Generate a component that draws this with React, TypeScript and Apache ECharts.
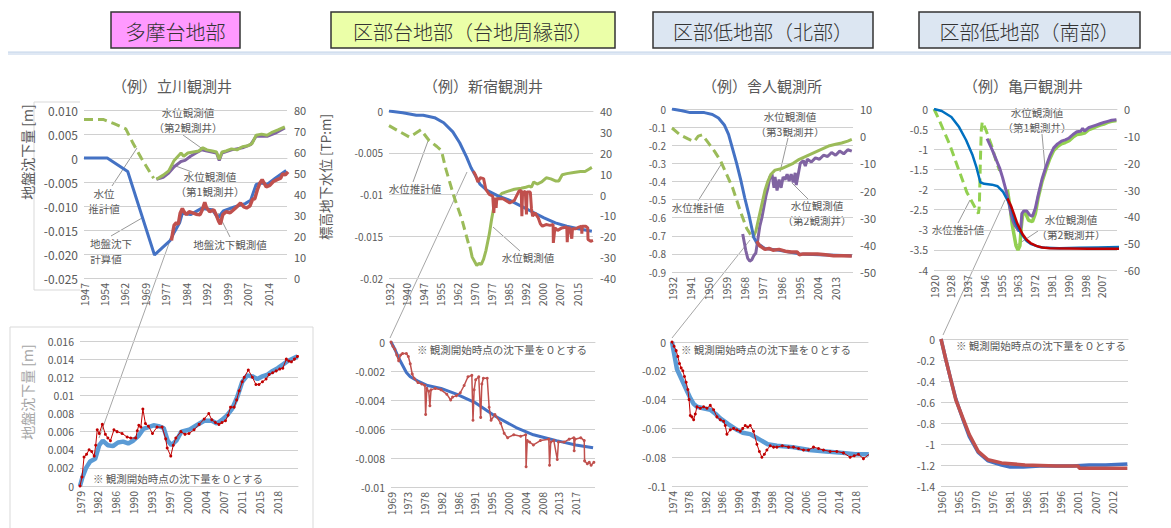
import React, { useEffect, useRef } from 'react';
import * as echarts from 'echarts';

const FONT = "'Noto Sans CJK JP', 'Noto Sans', sans-serif";
const TXT = '#595959';

// ---------------- texts ----------------
const HEADERS = ['多摩台地部', '区部台地部（台地周縁部）', '区部低地部（北部）', '区部低地部（南部）'];
const TITLES = ['（例）立川観測井', '（例）新宿観測井', '（例）舎人観測所', '（例）亀戸観測井'];
const NOTE = '※ 観測開始時点の沈下量を０とする';
const Y_NAME_SUB = '地盤沈下量 [m]';
const Y_NAME_GW = '標高地下水位 [TP:m]';

// ---------------- tick labels ----------------
const X1 = ['1947', '1954', '1962', '1969', '1977', '1984', '1992', '1999', '2007', '2014'];
const X2 = ['1932', '1940', '1947', '1955', '1962', '1970', '1977', '1985', '1992', '2000', '2007', '2015'];
const X3 = ['1932', '1941', '1950', '1959', '1968', '1977', '1986', '1995', '2004', '2013'];
const X4 = ['1920', '1928', '1937', '1946', '1955', '1963', '1972', '1981', '1990', '1998', '2007'];
const X5 = ['1979', '1982', '1986', '1990', '1993', '1997', '2000', '2004', '2007', '2011', '2015', '2018'];
const X6 = ['1969', '1973', '1978', '1982', '1986', '1991', '1995', '2000', '2004', '2008', '2013', '2017'];
const X7 = ['1974', '1978', '1982', '1986', '1990', '1994', '1998', '2002', '2006', '2010', '2014', '2018'];
const X8 = ['1960', '1965', '1970', '1976', '1981', '1986', '1991', '1996', '2001', '2007', '2012'];

// ---------------- data: 立川 (top) ----------------
const TACHI_CALC: [number, number][] = [[1947, 0], [1955.5, 0], [1963, -0.0028], [1972.8, -0.0202], [1978.5, -0.0172], [1980, -0.0155], [1982, -0.0135], [1983, -0.0115], [1986, -0.0118], [1990, -0.0105], [1994, -0.0108], [1996, -0.0125], [1998, -0.011], [2002, -0.0102], [2006, -0.0095], [2008, -0.0088], [2010, -0.0055], [2012, -0.0052], [2014, -0.0055], [2017, -0.0042], [2021, -0.0026]];
const TACHI_OBS: [number, number][] = [[1979, -0.0172], [1979.5, -0.0155], [1980, -0.014], [1980.8, -0.0135], [1981.5, -0.0138], [1982.2, -0.0115], [1983, -0.0105], [1983.6, -0.0112], [1984.5, -0.0118], [1985.5, -0.0112], [1986.5, -0.0114], [1988, -0.0117], [1989.5, -0.0118], [1990.3, -0.0108], [1991.2, -0.0092], [1991.8, -0.0103], [1993, -0.0112], [1994.5, -0.0108], [1995.5, -0.012], [1996.3, -0.0132], [1996.9, -0.0138], [1997.8, -0.0118], [1999, -0.0112], [2000.5, -0.0114], [2002.5, -0.0104], [2004.3, -0.0094], [2005.5, -0.0102], [2006.5, -0.0104], [2007.7, -0.01], [2008.7, -0.0086], [2009.5, -0.0085], [2010.4, -0.0067], [2011.4, -0.0052], [2012.2, -0.0045], [2013.7, -0.006], [2015, -0.0057], [2016.3, -0.0049], [2017.7, -0.0045], [2019, -0.0042], [2019.7, -0.0033], [2020.7, -0.0035], [2021.7, -0.0029]];
const TACHI_EST: [number, number][] = [[1947, 75.5], [1954, 75.5], [1958, 73.5], [1962.3, 71], [1965, 64], [1968, 57], [1972.5, 47.5]];
const TACHI_W2: [number, number][] = [[1973.5, 47], [1976, 49], [1978, 51], [1980, 56], [1982.5, 59.5], [1983.5, 58], [1985, 59.5], [1987, 60], [1989, 60.5], [1990.5, 62], [1992, 61], [1994, 60.5], [1995.5, 60], [1996.5, 56.5], [1997.5, 60], [1999, 60.5], [2001, 61.5], [2003, 61], [2005, 62.5], [2007, 63], [2008.5, 64], [2010, 68], [2012, 68.5], [2014, 68], [2016, 69.5], [2018, 70.5], [2020.5, 72]];
const TACHI_W1: [number, number][] = [[1973.5, 47], [1976, 48], [1978, 50], [1980, 53], [1982.5, 55.5], [1984, 56], [1986, 58], [1988, 59.5], [1990, 61], [1992, 60.5], [1995.5, 59.5], [1996.5, 56], [1997.5, 59.5], [2001, 61], [2005, 62], [2008, 63.5], [2010, 67.5], [2014, 67.5], [2017, 69], [2020.5, 71.5]];

// ---------------- data: 新宿 (top) ----------------
const SHIN_CALC: [number, number][] = [[1932, 0], [1938, -0.0002], [1944, -0.0005], [1947, -0.0005], [1952, -0.0008], [1956, -0.0014], [1960, -0.0025], [1963, -0.0038], [1966, -0.0055], [1968, -0.0068], [1970, -0.0078], [1972, -0.0088], [1975, -0.0095], [1980, -0.0102], [1985, -0.0107], [1990, -0.0114], [1995, -0.0121], [2000, -0.0128], [2005, -0.0134], [2010, -0.0138], [2015, -0.0141], [2021, -0.0144]];
const SHIN_OBS: [number, number][] = [[1969, -0.0072], [1970, -0.0077], [1971, -0.0085], [1972, -0.008], [1973.5, -0.0081], [1974.5, -0.0094], [1976, -0.01], [1977.5, -0.0102], [1978, -0.0122], [1978.3, -0.0104], [1979, -0.0116], [1979.3, -0.0105], [1982, -0.0105], [1985, -0.011], [1987, -0.0107], [1989, -0.0096], [1990, -0.0095], [1990.3, -0.0126], [1990.6, -0.0098], [1991.8, -0.0096], [1992.3, -0.0124], [1992.6, -0.0097], [1994, -0.0097], [1994.5, -0.0117], [1995, -0.0126], [1996, -0.0122], [1997.5, -0.0128], [1998.4, -0.0135], [1999.3, -0.0138], [2000.9, -0.0136], [2002.7, -0.0137], [2004, -0.0136], [2004.1, -0.0158], [2004.8, -0.014], [2006, -0.0143], [2007.8, -0.014], [2010, -0.0139], [2010.2, -0.0157], [2010.5, -0.014], [2011.3, -0.014], [2012.2, -0.0153], [2012.5, -0.0141], [2014, -0.0141], [2015.3, -0.0139], [2016.5, -0.0138], [2016.6, -0.0147], [2016.8, -0.0138], [2018.3, -0.0138], [2019.2, -0.014], [2019.3, -0.0154], [2020.5, -0.0156], [2021.5, -0.0155]];
const SHIN_EST: [number, number][] = [[1932, 33], [1936, 30.5], [1941, 27.5], [1946, 31], [1949.5, 26], [1953, 23], [1955, 21], [1957, 12], [1960.5, -1], [1964, -12], [1967, -24]];
const SHIN_OBSW: [number, number][] = [[1967.5, -25], [1968.5, -30], [1969.5, -32], [1970.5, -34], [1971.5, -33], [1972.5, -33.5], [1973.5, -31], [1974.5, -27], [1976, -19], [1977, -12], [1978, -6], [1979.5, -2], [1981.5, 0.5], [1984, 1.5], [1987, 2.5], [1990, 3], [1992, 3.5], [1993.5, 4], [1994.5, 3.5], [1995.5, 6], [1997, 5], [1999, 6], [2001, 8], [2003, 7.5], [2005, 6.5], [2006.5, 6.5], [2008, 9.5], [2010, 10], [2013, 10.5], [2016, 11], [2018, 11], [2019.5, 12], [2021, 13]];

// ---------------- data: 舎人 (top) ----------------
const TONE_CALC: [number, number][] = [[1932, 0], [1937, -0.01], [1941, -0.02], [1948, -0.02], [1952, -0.03], [1955, -0.05], [1958, -0.09], [1960, -0.14], [1962, -0.22], [1964, -0.3], [1966, -0.39], [1968, -0.49], [1970, -0.58], [1972.5, -0.71], [1974, -0.74], [1978, -0.77], [1985, -0.78], [1990, -0.79], [1995, -0.8], [2005, -0.805], [2021, -0.81]];
const TONE_OBS: [number, number][] = [[1974, -0.73], [1975, -0.75], [1976, -0.76], [1978, -0.775], [1980, -0.77], [1982, -0.78], [1985, -0.775], [1988, -0.785], [1991, -0.79], [1994, -0.79], [1995, -0.805], [1997, -0.8], [2000, -0.8], [2004, -0.8], [2008, -0.805], [2012, -0.81], [2016, -0.81], [2021, -0.812]];
const TONE_EST: [number, number][] = [[1932, 3], [1936, 0.5], [1940, -1], [1943, -2], [1945, 0], [1947, 0.5], [1950, -2.5], [1953, -5.5], [1956, -9], [1959, -14], [1962, -19], [1966, -28], [1969, -34], [1972, -37.5]];
const TONE_W3: [number, number][] = [[1972, -37.5], [1973.5, -35], [1975, -30], [1976.5, -25], [1978, -20], [1979.5, -16.5], [1981, -14], [1983, -12.5], [1986, -12], [1989, -11], [1992, -10], [1995, -8.5], [1998, -7.5], [2001, -6.5], [2004, -5.5], [2007, -4.5], [2010, -3.5], [2013, -3], [2016, -2.5], [2019, -1.8], [2021, -1.2]];
const TONE_W2: [number, number][] = [[1967, -36], [1968.5, -42], [1969.5, -45], [1970.5, -46], [1971.5, -45.5], [1972.5, -44], [1973.5, -43], [1974.5, -38], [1975.5, -33], [1976.5, -30], [1977.5, -26], [1978.5, -22], [1979.5, -19], [1980.5, -15], [1981.5, -14], [1982.5, -19], [1983, -15], [1984, -20], [1985, -16], [1986, -19], [1987, -15], [1988, -16], [1989, -14], [1990, -16.5], [1991, -14], [1992, -17], [1993, -13.5], [1993.5, -18], [1994.5, -14], [1995.5, -10], [1997, -9], [1998, -11], [1999, -8.5], [2001, -9.5], [2003, -8], [2005, -8.5], [2007, -7], [2009, -7.5], [2011, -6], [2013, -7], [2015, -5.5], [2017, -6.5], [2019, -5], [2021, -5.5]];

// ---------------- data: 亀戸 (top) ----------------
const KAME_CALC: [number, number][] = [[1920, 0], [1924, -0.05], [1929, -0.2], [1933, -0.45], [1936.6, -0.77], [1940, -1.15], [1942, -1.45], [1944, -1.82], [1946, -1.86], [1950, -1.88], [1953, -1.92], [1955.8, -2.06], [1958, -2.26], [1960, -2.45], [1962, -2.8], [1964, -3.0], [1966, -3.15], [1968, -3.28], [1970, -3.35], [1974, -3.42], [1978, -3.45], [1985, -3.46], [1995, -3.45], [2005, -3.44], [2016.5, -3.43]];
const KAME_OBS: [number, number][] = [[1958, -2.22], [1960, -2.42], [1961.5, -2.62], [1963, -2.83], [1964.5, -2.98], [1966, -3.12], [1968, -3.25], [1970, -3.33], [1973, -3.4], [1976, -3.44], [1980, -3.46], [1990, -3.465], [2000, -3.47], [2010, -3.47], [2016.5, -3.47]];
const KAME_EST: [number, number][] = [[1920, 0], [1922, -3], [1925, -8], [1928, -13], [1931, -19], [1934, -25], [1937, -31], [1940, -35], [1943, -39], [1943.5, -36], [1944, -20], [1944.5, -8], [1945, -4.8], [1947, -8], [1950, -14], [1952, -19], [1954, -23]];
const KAME_W1: [number, number][] = [[1947.5, -11], [1950, -15], [1952, -18.5], [1954, -22], [1955.5, -25.5], [1957, -29.5], [1958.5, -34], [1960, -39.5], [1961, -42], [1962, -43.5], [1963, -44.5], [1964, -45.5], [1965, -44], [1965.5, -39], [1966.5, -38], [1968, -38], [1969.5, -39.5], [1971, -40], [1972.5, -37], [1974, -32], [1976, -26], [1978, -21.5], [1980, -17.5], [1982, -14.5], [1984, -13], [1986, -12], [1988, -11.5], [1990, -10.8], [1992, -9.5], [1994, -8.5], [1996, -8.3], [1997, -7.2], [1998, -8.2], [2000, -7], [2002, -6.5], [2004, -6], [2006, -5.5], [2008, -5], [2010, -4.6], [2012, -4.2], [2014.5, -4]];
const KAME_W2: [number, number][] = [[1958, -30], [1959.5, -37], [1960.5, -43], [1961.5, -47], [1962.5, -51], [1963.5, -52.5], [1964.5, -51], [1965.2, -44], [1966, -39], [1967.5, -39], [1969, -41.5], [1971, -42], [1972.5, -39], [1974, -33], [1976, -27], [1978, -22.5], [1980, -18.5], [1982, -15.5], [1984, -14], [1986, -13], [1988, -12.5], [1990, -11.8], [1992, -10.5], [1994, -9.5], [1996, -9.3], [1998, -9], [2000, -7.8], [2002, -7.2], [2004, -6.6], [2006, -6], [2008, -5.6], [2010, -5], [2012, -4.6], [2014.5, -4.3]];

// ---------------- data: bottom (re-based) ----------------
const B_TACHI_CALC: [number, number][] = [[1979, 0], [1979.5, 0.001], [1980.2, 0.002], [1981, 0.0027], [1982, 0.003], [1982.8, 0.0045], [1983.5, 0.005], [1984.5, 0.0045], [1985.5, 0.0044], [1986.5, 0.0048], [1987.5, 0.0049], [1988.5, 0.0047], [1989.5, 0.005], [1990.5, 0.0055], [1991.5, 0.0063], [1992.5, 0.0065], [1993.5, 0.0067], [1994.5, 0.0066], [1995.5, 0.0064], [1996.3, 0.005], [1997, 0.0045], [1998, 0.005], [1999, 0.006], [2000.5, 0.0062], [2002, 0.0067], [2003.5, 0.0072], [2005, 0.0072], [2006, 0.0069], [2007, 0.0073], [2008, 0.0078], [2009, 0.0085], [2010, 0.0098], [2011, 0.0115], [2012, 0.0122], [2013, 0.0121], [2014, 0.0118], [2015, 0.0121], [2016, 0.0123], [2017, 0.0127], [2018, 0.013], [2019, 0.0134], [2020, 0.0138], [2021.9, 0.0143]];
const B_TACHI_OBS: [number, number][] = [[1979, 0], [1979.4, 0.001], [1979.8, 0.0032], [1980.3, 0.0035], [1980.8, 0.004], [1981.3, 0.0038], [1981.8, 0.0033], [1982.1, 0.0045], [1982.4, 0.0062], [1982.8, 0.0058], [1983.4, 0.0068], [1984, 0.0057], [1984.5, 0.0053], [1985, 0.005], [1985.7, 0.0062], [1986.3, 0.006], [1987.3, 0.0058], [1988.3, 0.0054], [1989, 0.0053], [1990, 0.0053], [1990.3, 0.0061], [1990.6, 0.0067], [1991, 0.0065], [1991.4, 0.0085], [1991.9, 0.0069], [1992.5, 0.0066], [1993.3, 0.0058], [1994.2, 0.0065], [1995.2, 0.0065], [1995.9, 0.0052], [1996.2, 0.0042], [1996.9, 0.0033], [1997.4, 0.0045], [1997.9, 0.0053], [1998.9, 0.006], [1999.7, 0.0057], [2000.5, 0.0058], [2001.5, 0.0062], [2002.5, 0.0068], [2003.5, 0.0074], [2004.4, 0.008], [2005, 0.0073], [2005.7, 0.007], [2006.4, 0.0068], [2007, 0.007], [2007.7, 0.0072], [2008.2, 0.0078], [2008.7, 0.0087], [2009.4, 0.0087], [2009.9, 0.0095], [2010.4, 0.0105], [2011, 0.0115], [2011.4, 0.012], [2012.2, 0.0128], [2013, 0.012], [2013.7, 0.0112], [2014.3, 0.0112], [2015, 0.0115], [2015.7, 0.0118], [2016.3, 0.0123], [2017, 0.0125], [2017.7, 0.0127], [2018.4, 0.0129], [2019, 0.013], [2019.7, 0.014], [2020.2, 0.0138], [2020.7, 0.0137], [2021.3, 0.014], [2021.9, 0.0143]];
const B_SHIN_CALC: [number, number][] = [[1969, 0], [1970, -0.0005], [1971, -0.0011], [1972, -0.0016], [1973, -0.0021], [1974, -0.0024], [1976, -0.0027], [1978.5, -0.003], [1982, -0.0032], [1986, -0.0036], [1991, -0.0042], [1996, -0.0051], [2001.5, -0.0059], [2006, -0.0064], [2009, -0.0066], [2012, -0.0068], [2017, -0.0071], [2021.5, -0.0073]];
const B_SHIN_OBS: [number, number][] = [[1969, 0], [1969.5, -0.0003], [1970, -0.0005], [1970.5, -0.0009], [1971, -0.0013], [1971.5, -0.0009], [1972, -0.0008], [1973, -0.0008], [1973.5, -0.001], [1974, -0.0015], [1974.5, -0.0022], [1975, -0.0025], [1976, -0.0028], [1977, -0.0029], [1977.8, -0.003], [1978, -0.005], [1978.3, -0.0032], [1978.8, -0.0034], [1979.1, -0.0044], [1979.4, -0.0033], [1980.5, -0.0032], [1982, -0.0033], [1983.5, -0.0036], [1984.5, -0.004], [1985, -0.0038], [1986, -0.0037], [1987, -0.0035], [1988, -0.003], [1989, -0.0024], [1990, -0.0023], [1990.3, -0.0054], [1990.6, -0.0033], [1991, -0.0026], [1991.8, -0.0024], [1992.3, -0.0052], [1992.6, -0.0029], [1993, -0.0025], [1994, -0.0025], [1994.5, -0.0045], [1995, -0.0054], [1996, -0.005], [1997.5, -0.0056], [1998.4, -0.0063], [1999.3, -0.0066], [2000.9, -0.0064], [2002.7, -0.0065], [2004, -0.0064], [2004.1, -0.0086], [2004.4, -0.0068], [2005, -0.0069], [2006, -0.0071], [2007.8, -0.0068], [2010, -0.0067], [2010.2, -0.0085], [2010.5, -0.0069], [2011.3, -0.0068], [2012.2, -0.0081], [2012.5, -0.0069], [2014, -0.0069], [2015.3, -0.0067], [2016.5, -0.0066], [2016.6, -0.0075], [2016.8, -0.0067], [2018.3, -0.0066], [2019.2, -0.0068], [2019.3, -0.0082], [2020, -0.0084], [2020.5, -0.0083], [2021, -0.0085], [2021.7, -0.0083]];
const B_TONE_CALC: [number, number][] = [[1974, 0], [1974.5, -0.008], [1975.2, -0.019], [1976, -0.024], [1976.8, -0.029], [1977.6, -0.034], [1978.4, -0.039], [1979.2, -0.043], [1980, -0.045], [1981.5, -0.046], [1983.2, -0.047], [1984.5, -0.05], [1985.6, -0.053], [1987.5, -0.057], [1989.6, -0.061], [1991, -0.063], [1992.8, -0.064], [1994, -0.066], [1995.2, -0.068], [1997, -0.071], [1999.2, -0.072], [2003, -0.073], [2007, -0.075], [2011, -0.076], [2015, -0.077], [2018, -0.078], [2021.3, -0.078]];
const B_TONE_OBS: [number, number][] = [[1974, 0], [1974.5, -0.003], [1975, -0.006], [1975.4, -0.01], [1975.8, -0.015], [1976.2, -0.018], [1976.6, -0.02], [1977, -0.024], [1977.4, -0.028], [1977.8, -0.033], [1978.1, -0.04], [1978.4, -0.051], [1978.8, -0.052], [1979.2, -0.054], [1979.6, -0.05], [1980, -0.045], [1980.8, -0.046], [1981.6, -0.045], [1982.4, -0.046], [1983.2, -0.044], [1984, -0.047], [1984.8, -0.052], [1985.6, -0.054], [1986.4, -0.055], [1986.8, -0.058], [1987.2, -0.064], [1988, -0.061], [1988.8, -0.06], [1989.6, -0.061], [1990.4, -0.062], [1991, -0.06], [1991.6, -0.058], [1992.2, -0.059], [1992.8, -0.058], [1993.6, -0.062], [1994.4, -0.071], [1995, -0.076], [1995.6, -0.08], [1996.2, -0.078], [1996.8, -0.075], [1997.6, -0.072], [1998.4, -0.073], [1999.2, -0.073], [2000.5, -0.072], [2002, -0.073], [2003.2, -0.073], [2004.4, -0.074], [2005.6, -0.075], [2006.8, -0.075], [2008, -0.073], [2009.2, -0.074], [2010.4, -0.075], [2012, -0.076], [2013.6, -0.076], [2015.2, -0.077], [2016.8, -0.08], [2017.8, -0.079], [2018.8, -0.078], [2020, -0.081], [2021.4, -0.078]];
const B_KAME_CALC: [number, number][] = [[1960, 0], [1961.5, -0.2], [1963, -0.39], [1964.5, -0.57], [1966.6, -0.76], [1968.6, -0.93], [1971.3, -1.08], [1974.3, -1.16], [1978.4, -1.2], [1981, -1.22], [1985, -1.22], [1990, -1.21], [1995, -1.21], [2000, -1.21], [2005, -1.2], [2010, -1.2], [2016.6, -1.19]];
const B_KAME_OBS: [number, number][] = [[1960, 0], [1961.5, -0.2], [1963, -0.39], [1964.5, -0.58], [1966.6, -0.75], [1968.6, -0.91], [1971.3, -1.07], [1974.3, -1.15], [1978.4, -1.18], [1985.5, -1.2], [1995, -1.21], [2001.7, -1.21], [2002, -1.23], [2008, -1.23], [2016.6, -1.23]];

// ---------------- helpers ----------------
type Pts = [number, number][];
const xFmt = (labels: string[], step: number) => (v: number) => {
  const k = v / step;
  const r = Math.round(k);
  return Math.abs(k - r) < 1e-6 && r >= 0 && r < labels.length ? labels[r] : '';
};

type Panel = {
  grid: { left: number; top: number; width: number; height: number };
  start: number; step: number; max: number; labels: string[];
  yL: { min: number; max: number; interval: number; fmt?: (v: number) => string; size: number };
  yR?: { min: number; max: number; interval: number; size: number };
};

const fix = (d: number) => (v: number) => (Math.abs(v) < 1e-12 ? '0' : v.toFixed(d));
const plain = (v: number) => (Math.abs(v) < 1e-12 ? '0' : String(Math.round(v * 1e6) / 1e6));

const PANELS: Panel[] = [
  { grid: { left: 84, top: 110, width: 203, height: 168 }, start: 1947, step: 7.5, max: 74.3, labels: X1, yL: { min: -0.025, max: 0.01, interval: 0.005, fmt: fix(3), size: 12 }, yR: { min: 0, max: 80, interval: 10, size: 11 } },
  { grid: { left: 389, top: 111, width: 204, height: 167 }, start: 1932, step: 7.5, max: 89.5, labels: X2, yL: { min: -0.02, max: 0, interval: 0.005, fmt: plain, size: 10 }, yR: { min: -40, max: 40, interval: 10, size: 11 } },
  { grid: { left: 672, top: 109, width: 181, height: 163 }, start: 1932, step: 9, max: 89.6, labels: X3, yL: { min: -0.9, max: 0, interval: 0.1, fmt: fix(1), size: 10 }, yR: { min: -50, max: 10, interval: 10, size: 11 } },
  { grid: { left: 934, top: 109, width: 183, height: 161 }, start: 1920, step: 8.7, max: 94.8, labels: X4, yL: { min: -4, max: 0, interval: 0.5, fmt: plain, size: 10.5 }, yR: { min: -60, max: 0, interval: 10, size: 11 } },
  { grid: { left: 80, top: 341, width: 218, height: 145 }, start: 1979, step: 3.545, max: 43.0, labels: X5, yL: { min: 0, max: 0.016, interval: 0.002, fmt: plain, size: 10.5 } },
  { grid: { left: 391, top: 342, width: 204, height: 145 }, start: 1969, step: 4.364, max: 53, labels: X6, yL: { min: -0.01, max: 0, interval: 0.002, fmt: plain, size: 10.5 } },
  { grid: { left: 672, top: 342, width: 196, height: 144 }, start: 1974, step: 4, max: 47.1, labels: X7, yL: { min: -0.1, max: 0, interval: 0.02, fmt: plain, size: 10.5 } },
  { grid: { left: 941, top: 339, width: 187, height: 147 }, start: 1960, step: 5.2, max: 56.8, labels: X8, yL: { min: -1.4, max: 0, interval: 0.2, fmt: plain, size: 10.5 } },
];

export default function App() {
  const ref = useRef<HTMLDivElement>(null);
  useEffect(() => {
    document.body.style.margin = '0';
    if (!ref.current) return;
    const chart = echarts.init(ref.current, null, { renderer: 'svg' });

    const grids: any[] = [];
    const xAxes: any[] = [];
    const yAxes: any[] = [];
    const yIdx: { L: number; R: number }[] = [];

    PANELS.forEach((p, i) => {
      grids.push({ ...p.grid });
      xAxes.push({
        type: 'value', gridIndex: i, min: 0, max: p.max, interval: p.step,
        axisLine: { show: true, lineStyle: { color: '#d0d0d0', width: 1 } },
        axisTick: { show: false }, splitLine: { show: false },
        axisLabel: { rotate: 90, margin: 5, color: TXT, fontSize: 10.5, fontFamily: FONT, formatter: xFmt(p.labels, p.step), showMinLabel: true, showMaxLabel: true },
      });
      const L = yAxes.length;
      yAxes.push({
        type: 'value', gridIndex: i, position: 'left', min: p.yL.min, max: p.yL.max, interval: p.yL.interval,
        axisLine: { show: false }, axisTick: { show: false },
        splitLine: { show: true, lineStyle: { color: '#d0d0d0', width: 1 } },
        axisLabel: { color: TXT, fontSize: p.yL.size, fontFamily: FONT, margin: 6, formatter: p.yL.fmt },
      });
      let R = -1;
      if (p.yR) {
        R = yAxes.length;
        yAxes.push({
          type: 'value', gridIndex: i, position: 'right', min: p.yR.min, max: p.yR.max, interval: p.yR.interval,
          axisLine: { show: false }, axisTick: { show: false }, splitLine: { show: false },
          axisLabel: { color: TXT, fontSize: p.yR.size, fontFamily: FONT, margin: 7 },
        });
      }
      yIdx.push({ L, R });
    });

    const ln = (panel: number, side: 'L' | 'R', pts: Pts, color: string, width: number, extra: any = {}) => {
      const p = PANELS[panel];
      return {
        type: 'line', xAxisIndex: panel, yAxisIndex: yIdx[panel][side],
        data: pts.map(([yr, v]) => [yr - p.start, v]),
        showSymbol: false, symbol: 'none', silent: true,
        lineStyle: { color, width, ...(extra.lineStyle || {}) },
      };
    };
    const dotted = (panel: number, pts: Pts, color: string, lw: number, size: number) => {
      const p = PANELS[panel];
      return {
        type: 'line', xAxisIndex: panel, yAxisIndex: yIdx[panel].L,
        data: pts.map(([yr, v]) => [yr - p.start, v]),
        showSymbol: true, symbol: 'circle', symbolSize: size, silent: true,
        itemStyle: { color }, lineStyle: { color, width: lw },
      };
    };

    const DASH = { lineStyle: { type: [9, 5] } };
    const series: any[] = [
      // 立川
      ln(0, 'R', TACHI_EST, '#9BBB59', 3, DASH),
      ln(0, 'R', TACHI_W1, '#8064A2', 3),
      ln(0, 'R', TACHI_W2, '#9BBB59', 3),
      ln(0, 'L', TACHI_CALC, '#4472C4', 3),
      ln(0, 'L', TACHI_OBS, '#C0504D', 3.5),
      // 新宿
      ln(1, 'R', SHIN_EST, '#9BBB59', 3, DASH),
      ln(1, 'R', SHIN_OBSW, '#9BBB59', 3),
      ln(1, 'L', SHIN_CALC, '#4472C4', 3),
      ln(1, 'L', SHIN_OBS, '#C0504D', 3),
      // 舎人
      ln(2, 'R', TONE_EST, '#9BBB59', 3, DASH),
      ln(2, 'R', TONE_W2, '#8064A2', 3),
      ln(2, 'R', TONE_W3, '#9BBB59', 3),
      ln(2, 'L', TONE_CALC, '#4472C4', 3),
      ln(2, 'L', TONE_OBS, '#C0504D', 3.5),
      // 亀戸
      ln(3, 'R', KAME_EST, '#92D050', 3, DASH),
      ln(3, 'R', KAME_W2, '#92D050', 3.5),
      ln(3, 'R', KAME_W1, '#7F5FAA', 3),
      ln(3, 'L', KAME_CALC, '#0070C0', 2.5),
      ln(3, 'L', KAME_OBS, '#C00000', 2.5),
      // bottom
      ln(4, 'L', B_TACHI_CALC, '#5B9BD5', 4.5),
      dotted(4, B_TACHI_OBS, '#C00000', 1, 3),
      ln(5, 'L', B_SHIN_CALC, '#4472C4', 3),
      dotted(5, B_SHIN_OBS, '#C0504D', 1.5, 3),
      ln(6, 'L', B_TONE_CALC, '#5B9BD5', 4.5),
      dotted(6, B_TONE_OBS, '#C00000', 1, 3),
      ln(7, 'L', B_KAME_CALC, '#4472C4', 3.5),
      ln(7, 'L', B_KAME_OBS, '#C0504D', 3.5),
    ];

    // ----- graphics -----
    const g: any[] = [];
    const txt = (x: number, y: number, text: string, size: number, color = TXT, extra: any = {}) => ({
      type: 'text', x, y, silent: true, rotation: extra.rotation || 0,
      style: { text, fill: color, font: `${extra.weight || 'normal'} ${size}px ${FONT}`, align: 'center', verticalAlign: 'middle' },
    });
    const seg = (x1: number, y1: number, x2: number, y2: number, color = '#8c8c8c', w = 0.9) => ({
      type: 'line', silent: true, shape: { x1, y1, x2, y2 }, style: { stroke: color, lineWidth: w },
    });

    // separator under headers
    g.push({ type: 'rect', silent: true, shape: { x: 8, y: 52, width: 1163, height: 3 }, style: { fill: '#dfe8f4' } });
    g.push(seg(8, 52, 1171, 52, '#c6d5ea', 1.2));
    // headers
    const HB = [
      { x: 111, w: 129, fill: '#FF99FF' },
      { x: 331, w: 284, fill: '#EBFFA8' },
      { x: 653, w: 220, fill: '#DCE6F2' },
      { x: 919, w: 221, fill: '#DCE6F2' },
    ];
    HB.forEach((b, i) => {
      g.push({ type: 'rect', silent: true, shape: { x: b.x, y: 12, width: b.w, height: 36 }, style: { fill: b.fill, stroke: '#333333', lineWidth: 1.5 } });
      g.push(txt(b.x + b.w / 2, 31, HEADERS[i], 20, '#333333', { weight: 300 }));
    });
    // titles
    [172, 483, 762, 1023].forEach((x, i) => g.push(txt(x, 85, TITLES[i], 15, TXT)));
    // frames
    g.push({ type: 'polyline', silent: true, shape: { points: [[80, 102], [34, 102], [34, 290], [80, 290]] }, style: { stroke: '#d9d9d9', lineWidth: 1, fill: 'none' } });
    g.push({ type: 'polyline', silent: true, shape: { points: [[10, 540], [10, 327], [313, 327], [313, 540]] }, style: { stroke: '#d9d9d9', lineWidth: 1, fill: 'none' } });
    // axis names (read bottom-to-top)
    g.push(txt(27, 152, Y_NAME_SUB, 14, TXT, { rotation: Math.PI / 2 }));
    g.push(txt(325, 177, Y_NAME_GW, 13.5, TXT, { rotation: Math.PI / 2 }));
    g.push(txt(27, 392, Y_NAME_SUB, 14, '#a6a6a6', { rotation: Math.PI / 2 }));

    // annotations (top)
    const A = 10.5;
    g.push(txt(188, 112, '水位観測値', A), txt(188, 127, '（第2観測井）', A), seg(183, 135, 204, 150));
    g.push(txt(210, 176, '水位観測値', A), txt(210, 191, '（第1観測井）', A), seg(173, 165, 192, 172));
    g.push(txt(104, 193, '水位', A), txt(104, 208, '推計値', A), seg(112, 186, 137, 148));
    g.push(txt(111, 243, '地盤沈下', A), txt(106, 258, '計算値', A), seg(111, 236, 142, 218));
    g.push(txt(230, 244, '地盤沈下観測値', A), seg(230, 237, 218, 213));

    g.push(txt(415, 188, '水位推計値', A), seg(413, 182, 428, 141));
    g.push(txt(528, 257, '水位観測値', A), seg(520, 251, 493, 227));

    g.push(txt(790, 116, '水位観測値', A), txt(790, 131, '（第3観測井）', A), seg(788, 138, 780, 172));
    g.push(txt(698, 207, '水位推計値', A), seg(698, 201, 722, 163));
    g.push(txt(817, 205, '水位観測値', A), txt(817, 220, '（第2観測井）', A), seg(808, 199, 792, 183));

    g.push(txt(1037, 112, '水位観測値', A), txt(1037, 127, '（第1観測井）', A), seg(1042, 134, 1045, 167));
    g.push(txt(958, 229, '水位推計値', A), seg(958, 223, 970, 200));
    g.push(txt(1071, 219, '水位観測値', A), txt(1071, 234, '（第2観測井）', A), seg(1038, 231, 1017, 245));

    // notes (bottom)
    g.push(txt(178, 478, NOTE, 10.5), txt(502, 349, NOTE, 10.5), txt(766, 349, NOTE, 10.5), txt(1041, 345, NOTE, 10.5));

    // connectors top → bottom
    g.push(seg(172, 235, 99, 438, '#a6a6a6', 1));
    g.push(seg(467, 172, 390, 338, '#a6a6a6', 1));
    g.push(seg(750, 240, 672, 338, '#a6a6a6', 1));
    g.push(seg(1005, 200, 943, 335, '#a6a6a6', 1));

    chart.setOption({
      animation: false,
      backgroundColor: '#ffffff',
      textStyle: { fontFamily: FONT },
      grid: grids,
      xAxis: xAxes,
      yAxis: yAxes,
      series,
      graphic: g,
    });
    return () => chart.dispose();
  }, []);
  return <div ref={ref} style={{ position: 'absolute', left: 0, top: 0, width: 1171, height: 528 }} />;
}
